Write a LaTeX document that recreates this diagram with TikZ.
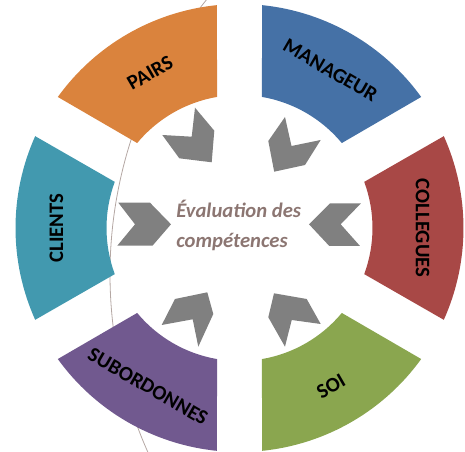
\documentclass[tikz,border=0pt]{standalone}
\usepackage{fontspec}
\setmainfont{Carlito}
\usepackage{tikz}

\definecolor{pairsorange}{RGB}{218,131,61}
\definecolor{managerblue}{RGB}{69,113,166}
\definecolor{colleguesred}{RGB}{168,72,70}
\definecolor{soigreen}{RGB}{138,166,79}
\definecolor{suborpurple}{RGB}{113,89,143}
\definecolor{clientsteal}{RGB}{66,153,175}
\definecolor{arrowgray}{RGB}{128,128,128}
\definecolor{centertext}{RGB}{140,118,114}
\definecolor{thinline}{RGB}{180,167,163}

\begin{document}
\begin{tikzpicture}[x=0.75pt,y=0.75pt,
  seglabel/.style={font=\bfseries\fontsize{15.5}{18}\selectfont,text=black,inner sep=0pt},
  chevron/.style={fill=arrowgray}]

\useasboundingbox (-239.5,-224) rectangle (225.5,228);
\coordinate (O) at (0,0);

% thin arc on the left, behind everything
\draw[thinline,line width=0.6pt] (308.5,-46) ++(140:438) arc[start angle=140, end angle=206, radius=438];

% ring parts
\fill[managerblue] (35.8:224) arc[start angle=35.8, end angle=84.2, radius=224] -- (80.3:133) arc[start angle=80.3, end angle=39.7, radius=133] -- cycle;
\fill[pairsorange] (95.8:224) arc[start angle=95.8, end angle=144.2, radius=224] -- (140.3:133) arc[start angle=140.3, end angle=99.7, radius=133] -- cycle;
\fill[clientsteal] (155.8:224) arc[start angle=155.8, end angle=204.2, radius=224] -- (200.3:133) arc[start angle=200.3, end angle=159.7, radius=133] -- cycle;
\fill[suborpurple] (215.8:224) arc[start angle=215.8, end angle=264.2, radius=224] -- (260.3:133) arc[start angle=260.3, end angle=219.7, radius=133] -- cycle;
\fill[soigreen] (275.8:224) arc[start angle=275.8, end angle=324.2, radius=224] -- (320.3:133) arc[start angle=320.3, end angle=279.7, radius=133] -- cycle;
\fill[colleguesred] (-24.2:224) arc[start angle=-24.2, end angle=24.2, radius=224] -- (20.3:133) arc[start angle=20.3, end angle=-20.3, radius=133] -- cycle;

\node (manageur) [seglabel,rotate=-30] at (60:182) {MANAGEUR};
\node (pairs) [seglabel,rotate=30] at (120:179) {PAIRS};
\node (clients) [seglabel,rotate=90] at (180:183) {CLIENTS};
\node (subordonnes) [seglabel,rotate=-30] at (-120:183) {SUBORDONNES};
\node (soi) [seglabel,rotate=30] at (-60:183) {SOI};
\node (collegues) [seglabel,rotate=-90] at (0:183) {COLLEGUES};

% arrows pointing to the middle
\fill[chevron] (-121.2,25.3) -- (-89.5,25.3) -- (-68.5,3.7) -- (-87,-17.7) -- (-122.2,-17.7) -- (-104.5,3.7) -- cycle;
\fill[chevron] (121.5,24.7) -- (90.5,24.7) -- (69.5,3.7) -- (89.8,-18) -- (120.5,-18) -- (101.2,3.7) -- cycle;
\fill[chevron] (-44.5,120.3) -- (-25.2,97.3) -- (-27.8,65.7) -- (-60.2,69.7) -- (-77.2,93) -- (-47.8,91.3) -- cycle;
\fill[chevron] (45.5,111) -- (52,82) -- (81.2,88) -- (65.5,63) -- (34.7,56.3) -- (28.8,87) -- cycle;
\fill[chevron] (-64.5,-71) -- (-32.2,-64.3) -- (-26.2,-86) -- (-41.2,-118.7) -- (-46.8,-91.3) -- (-77.8,-97) -- cycle;
\fill[chevron] (34.5,-65.3) -- (67.2,-71) -- (81.2,-96) -- (52.2,-92) -- (45.5,-118.7) -- (28.8,-89.3) -- cycle;

\node (evaluation) [anchor=base west,inner sep=0pt,align=left,text=centertext,
  font=\bfseries\itshape\fontsize{15.5}{22.5}\selectfont] at (-63.5,-20) {Évaluation des\\compétences};

\end{tikzpicture}
\end{document}
